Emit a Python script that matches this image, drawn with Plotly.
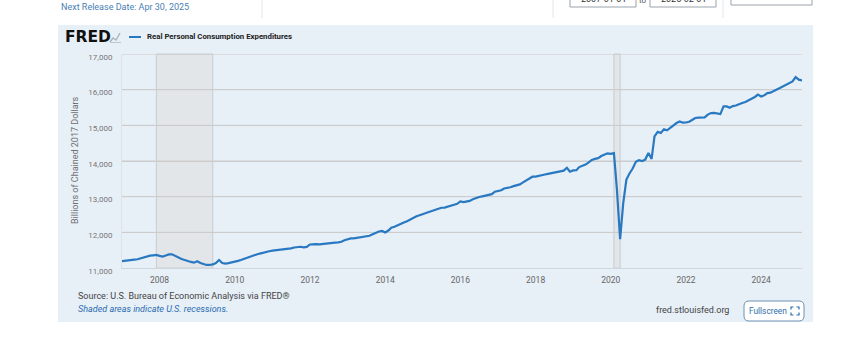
import pandas as pd
import plotly.graph_objects as go

# ---------------- data ----------------
series_name = "Real Personal Consumption Expenditures"
y_title = "Billions of Chained 2017 Dollars"

pce_2007 = [11195, 11200, 11215, 11222, 11235, 11245, 11268, 11310, 11330, 11345, 11355, 11365]
pce_2008 = [11340, 11320, 11350, 11380, 11385, 11340, 11290, 11250, 11225, 11190, 11170, 11150]
pce_2009 = [11190, 11140, 11110, 11085, 11085, 11100, 11140, 11225, 11140, 11125, 11135, 11150]
pce_2010 = [11180, 11200, 11225, 11260, 11290, 11320, 11350, 11380, 11405, 11430, 11455, 11470]
pce_2011 = [11485, 11495, 11500, 11510, 11520, 11530, 11550, 11575, 11590, 11595, 11578, 11590]
pce_2012 = [11660, 11670, 11670, 11665, 11670, 11675, 11690, 11695, 11710, 11720, 11735, 11780]
pce_2013 = [11810, 11830, 11832, 11850, 11857, 11875, 11890, 11905, 11945, 11985, 12025, 12040]
pce_2014 = [11995, 12050, 12130, 12155, 12200, 12228, 12275, 12310, 12360, 12415, 12450, 12480]
pce_2015 = [12520, 12540, 12570, 12600, 12625, 12660, 12690, 12695, 12715, 12735, 12775, 12800]
pce_2016 = [12865, 12850, 12870, 12880, 12925, 12965, 12990, 13010, 13030, 13035, 13070, 13140]
pce_2017 = [13160, 13180, 13230, 13240, 13265, 13295, 13325, 13345, 13400, 13450, 13520, 13560]
pce_2018 = [13560, 13575, 13585, 13620, 13640, 13660, 13685, 13705, 13720, 13730, 13810, 13700]
pce_2019 = [13735, 13740, 13830, 13855, 13900, 13960, 14030, 14060, 14080, 14140, 14185, 14215]
pce_2020 = [14200, 14220, 13200, 11810, 12810, 13480, 13650, 13790, 13975, 14020, 13995, 14040]
pce_2021 = [14225, 14060, 14690, 14815, 14785, 14890, 14860, 14935, 14990, 15065, 15110, 15075]
pce_2022 = [15080, 15100, 15150, 15205, 15215, 15215, 15225, 15300, 15345, 15350, 15325, 15315]
pce_2023 = [15530, 15530, 15495, 15540, 15555, 15600, 15625, 15655, 15700, 15730, 15795, 15860]
pce_2024 = [15810, 15840, 15905, 15915, 15970, 16005, 16045, 16090, 16145, 16185, 16230, 16350]
pce_2025 = [16280, 16260]

pce = (pce_2007 + pce_2008 + pce_2009 + pce_2010 + pce_2011 + pce_2012 + pce_2013
       + pce_2014 + pce_2015 + pce_2016 + pce_2017 + pce_2018 + pce_2019 + pce_2020
       + pce_2021 + pce_2022 + pce_2023 + pce_2024 + pce_2025)
start_date = "2007-01-01"
end_date = "2025-02-01"
dates = pd.date_range(start_date, periods=len(pce), freq="MS")

recession_starts = ["2007-12-01", "2020-02-01"]
recession_ends = ["2009-06-01", "2020-04-01"]

y_ticks = [11000, 12000, 13000, 14000, 15000, 16000, 17000]
x_ticks = ["2008-01-01", "2010-01-01", "2012-01-01", "2014-01-01", "2016-01-01",
           "2018-01-01", "2020-01-01", "2022-01-01", "2024-01-01"]
x_tick_labels = ["2008", "2010", "2012", "2014", "2016", "2018", "2020", "2022", "2024"]

# ---------------- layout geometry ----------------
W, H = 849, 348
L, R, T, B = 122, 47, 54, 80
PW, PH = W - L - R, H - T - B


def X(px):
    return (px - L) / PW


def Y(py):
    return (H - B - py) / PH


LINE = "#2878c2"
FONT = "Roboto"
GRID = "#cccccc"

fig = go.Figure()
fig.add_trace(go.Scatter(x=dates, y=pce, mode="lines", name=series_name,
                         line=dict(color=LINE, width=2.2), hoverinfo="skip"))

shapes = []
# light blue chart panel
shapes.append(dict(type="rect", xref="paper", yref="paper", x0=X(58), x1=X(813),
                   y0=Y(322), y1=Y(25), fillcolor="#e7eff7", line=dict(width=0), layer="below"))
# recessions
for s, e in zip(recession_starts, recession_ends):
    shapes.append(dict(type="rect", xref="x", yref="paper", x0=s, x1=e, y0=0, y1=1,
                       fillcolor="#e3e6e9", line=dict(color="#c8ccd0", width=1),
                       layer="below"))
# gridlines drawn over the recession shading (as in the reference)
for v in y_ticks[1:]:
    shapes.append(dict(type="line", xref="paper", yref="y", x0=0, x1=1, y0=v, y1=v,
                       line=dict(color=GRID, width=1), layer="below"))
# legend swatch
shapes.append(dict(type="line", xref="paper", yref="paper", x0=X(129), x1=X(141),
                   y0=Y(37), y1=Y(37), line=dict(color=LINE, width=2)))
# small FRED chart icon
shapes.append(dict(type="path", xref="paper", yref="paper",
                   path=f"M {X(110)},{Y(42)} L {X(113)},{Y(38)} L {X(116)},{Y(40)} L {X(120)},{Y(33)}",
                   line=dict(color="#aab5bf", width=1.4)))
shapes.append(dict(type="rect", xref="paper", yref="paper", x0=X(110), x1=X(121),
                   y0=Y(43), y1=Y(42), fillcolor="#bdc7d0", line=dict(width=0)))
# top page controls (cut off)
for x0, x1, y1 in [(570, 636, 7), (650, 716, 7), (731, 812, 5)]:
    shapes.append(dict(type="rect", xref="paper", yref="paper", x0=X(x0), x1=X(x1),
                       y0=Y(y1), y1=Y(-10), fillcolor="white", line=dict(color="#9aa3ab", width=1)))
for sx in [262, 553, 723]:
    shapes.append(dict(type="line", xref="paper", yref="paper", x0=X(sx), x1=X(sx),
                       y0=Y(18), y1=Y(0), line=dict(color="#e3e6e9", width=1)))


# Fullscreen button (rounded rect)
def rrect(px0, py0, px1, py1, r):
    rx, ry = r / PW, r / PH
    x0, x1, y0, y1 = X(px0), X(px1), Y(py1), Y(py0)
    return (f"M {x0+rx},{y0} L {x1-rx},{y0} Q {x1},{y0} {x1},{y0+ry} L {x1},{y1-ry} "
            f"Q {x1},{y1} {x1-rx},{y1} L {x0+rx},{y1} Q {x0},{y1} {x0},{y1-ry} "
            f"L {x0},{y0+ry} Q {x0},{y0} {x0+rx},{y0} Z")


shapes.append(dict(type="path", xref="paper", yref="paper", path=rrect(744, 301, 804, 321, 5),
                   fillcolor="white", line=dict(color="#6f93b3", width=1)))
# fullscreen corner icon
cx0, cx1, cy0, cy1, c = 791, 799, 307, 315, 2.5
for (ax, ay, dx, dy) in [(cx0, cy0, 1, 1), (cx1, cy0, -1, 1), (cx0, cy1, 1, -1), (cx1, cy1, -1, -1)]:
    shapes.append(dict(type="path", xref="paper", yref="paper",
                       path=f"M {X(ax+dx*c)},{Y(ay)} L {X(ax)},{Y(ay)} L {X(ax)},{Y(ay+dy*c)}",
                       line=dict(color="#2f6ea8", width=1.2)))

annotations = []


def ann(text, px, py, size, color, xanchor="left", bold=False, family=FONT, angle=0):
    annotations.append(dict(text=f"<b>{text}</b>" if bold else text, xref="paper", yref="paper",
                            x=X(px), y=Y(py), xanchor=xanchor, yanchor="middle", showarrow=False,
                            textangle=angle,
                            font=dict(family=family, size=size, color=color)))


ann("Next Release Date: Apr 30, 2025", 59, 7, 9, "#4a7fb4")
ann("2007-01-01", 603, -1, 9, "#333", xanchor="center")
ann("to", 643, 1, 8, "#555", xanchor="center")
ann("2025-02-01", 683, -1, 9, "#333", xanchor="center")
ann("FRED", 63, 37, 15.5, "#111", bold=True, family="DejaVu Sans")
ann(series_name, 145, 37, 7.8, "#222", bold=True)
ann(y_title, 75, 160, 9, "#707070", xanchor="center", angle=-90)
ann("Source: U.S. Bureau of Economic Analysis via FRED®", 76, 296, 9, "#444")
ann("<i>Shaded areas indicate U.S. recessions.</i>", 76, 309, 9, "#2a6cb0")
ann("fred.stlouisfed.org", 731, 310, 9, "#444", xanchor="right")
ann("Fullscreen", 747, 311, 8.3, "#2f6ea8")

fig.update_layout(
    width=W, height=H, margin=dict(l=L, r=R, t=T, b=B),
    paper_bgcolor="white", plot_bgcolor="white", showlegend=False,
    font=dict(family=FONT, size=8, color="#666"),
    shapes=shapes, annotations=annotations,
    xaxis=dict(range=[start_date, end_date], tickvals=x_ticks, ticktext=x_tick_labels,
               showgrid=False, zeroline=False, showline=True, linecolor="#cfd6df", linewidth=1,
               ticks="", tickfont=dict(size=8.5, color="#666"), ticklabelstandoff=4),
    yaxis=dict(range=[11000, 17000], tickvals=y_ticks, tickformat=",",
               showgrid=True, gridcolor=GRID, gridwidth=1, zeroline=False,
               showline=True, linecolor="#dde2e7", linewidth=1,
               ticks="", tickfont=dict(size=8, color="#777"), ticklabelstandoff=7,
               ticklabelshift=3),
)

fig.write_html("out.html")
